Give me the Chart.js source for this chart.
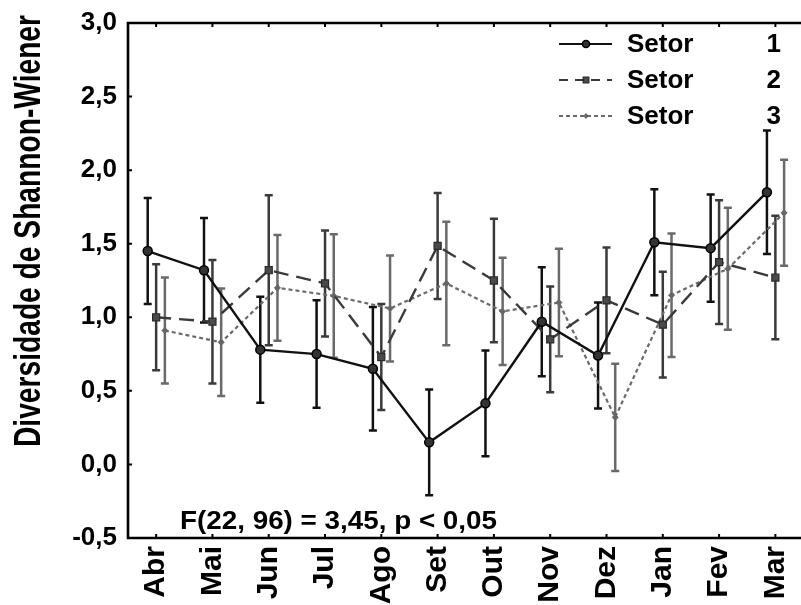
<!DOCTYPE html>
<html>
<head>
<meta charset="utf-8">
<script src="https://cdn.jsdelivr.net/npm/chart.js@4/dist/chart.umd.min.js"></script>
<style>
  html, body { margin: 0; padding: 0; background: #fff; }
  canvas { display: block; }
</style>
</head>
<body>
<canvas id="c" width="801" height="605"></canvas>
<script>
// ---- data ----
const months = ['Abr','Mai','Jun','Jul','Ago','Set','Out','Nov','Dez','Jan','Fev','Mar'];
const yTickValues = [-0.5, 0, 0.5, 1, 1.5, 2, 2.5, 3];
const seriesNames = ['Setor', 'Setor', 'Setor'];
const seriesNumbers = ['1', '2', '3'];
const setor1 = [1.45, 1.32, 0.78, 0.75, 0.65, 0.15, 0.415, 0.97, 0.74, 1.51, 1.47, 1.85];
const setor1Err = [0.36, 0.355, 0.36, 0.365, 0.42, 0.36, 0.36, 0.37, 0.36, 0.36, 0.365, 0.42];
const setor2 = [1.00, 0.97, 1.32, 1.23, 0.73, 1.485, 1.25, 0.85, 1.115, 0.95, 1.375, 1.27];
const setor2Err = [0.36, 0.42, 0.51, 0.36, 0.36, 0.36, 0.42, 0.36, 0.36, 0.36, 0.42, 0.42];
const setor3 = [0.91, 0.83, 1.20, 1.145, 1.06, 1.23, 1.04, 1.10, 0.32, 1.15, 1.33, 1.71];
const setor3Err = [0.36, 0.365, 0.36, 0.42, 0.36, 0.42, 0.365, 0.365, 0.365, 0.42, 0.415, 0.36];
const annotationText = 'F(22, 96) = 3,45, p < 0,05';
const yTitle = 'Diversidade de Shannon-Wiener';

// ---- styling ----
const offsets = [-0.15, 0, 0.155];
const colors = ['#111111', '#3a3a3a', '#6a6a6a'];
const dashes = [[], [15, 8], [4, 3]];

function hasFont(name) {
  const c = document.createElement('canvas').getContext('2d');
  c.font = 'bold 40px monospace';
  const a = c.measureText('Abr Wiener Mai').width;
  c.font = 'bold 40px "' + name + '", monospace';
  return c.measureText('Abr Wiener Mai').width !== a;
}
const narrow = hasFont('Liberation Sans Narrow');
const monthFont = narrow ? { family: '"Liberation Sans Narrow"', size: 36, weight: 'bold' }
                         : { family: '"Liberation Sans", Arial, sans-serif', size: 30, weight: 'bold' };

function toPoints(vals, off) { return vals.map((v, i) => ({ x: i + off, y: v })); }
const values = [setor1, setor2, setor3];
const errors = [setor1Err, setor2Err, setor3Err];

const datasets = [
  { label: 'Setor 1', data: toPoints(setor1, offsets[0]), borderColor: colors[0], borderWidth: 2.4,
    borderDash: dashes[0], pointStyle: 'circle', pointRadius: 4.5, pointBackgroundColor: '#333',
    pointBorderColor: '#000', pointBorderWidth: 1.5, fill: false, tension: 0 },
  { label: 'Setor 2', data: toPoints(setor2, offsets[1]), borderColor: colors[1], borderWidth: 2.4,
    borderDash: dashes[1], pointStyle: 'rect', pointRadius: 5, pointBackgroundColor: '#4a4a4a',
    pointBorderColor: '#2a2a2a', pointBorderWidth: 1.2, fill: false, tension: 0 },
  { label: 'Setor 3', data: toPoints(setor3, offsets[2]), borderColor: colors[2], borderWidth: 2.2,
    borderDash: dashes[2], pointStyle: 'rectRot', pointRadius: 3, pointBackgroundColor: '#666',
    pointBorderColor: '#666', pointBorderWidth: 1, fill: false, tension: 0 }
];

const errorBars = {
  id: 'errorBars',
  beforeDatasetsDraw(chart) {
    const ctx = chart.ctx, xs = chart.scales.x, ys = chart.scales.y;
    ctx.save();
    values.forEach((vals, s) => {
      ctx.strokeStyle = colors[s];
      ctx.lineWidth = 2.5;
      ctx.setLineDash([]);
      vals.forEach((v, i) => {
        const x = xs.getPixelForValue(i + offsets[s]);
        const yt = ys.getPixelForValue(v + errors[s][i]);
        const yb = ys.getPixelForValue(v - errors[s][i]);
        ctx.beginPath();
        ctx.moveTo(x, yt); ctx.lineTo(x, yb);
        ctx.moveTo(x - 4, yt); ctx.lineTo(x + 4, yt);
        ctx.moveTo(x - 4, yb); ctx.lineTo(x + 4, yb);
        ctx.stroke();
      });
    });
    ctx.restore();
  }
};

const frame = {
  id: 'frame',
  afterDraw(chart) {
    const ctx = chart.ctx, a = chart.chartArea, xs = chart.scales.x, ys = chart.scales.y;
    ctx.save();
    ctx.strokeStyle = '#000';
    ctx.lineWidth = 2.6;
    ctx.setLineDash([]);
    ctx.beginPath();
    ctx.moveTo(chart.width, a.top); ctx.lineTo(a.left, a.top);
    ctx.lineTo(a.left, a.bottom); ctx.lineTo(chart.width, a.bottom);
    ctx.stroke();
    ctx.lineWidth = 2;
    ctx.beginPath();
    months.forEach((m, i) => {
      const x = xs.getPixelForValue(i);
      ctx.moveTo(x, a.bottom); ctx.lineTo(x, a.bottom - 4);
      ctx.moveTo(x, a.top); ctx.lineTo(x, a.top + 4);
    });
    yTickValues.forEach(v => {
      const y = ys.getPixelForValue(v);
      ctx.moveTo(a.left, y); ctx.lineTo(a.left + 4, y);
    });
    ctx.stroke();

    // y title
    ctx.fillStyle = '#000';
    ctx.font = 'bold 37px "Liberation Sans", Arial, sans-serif';
    const w = ctx.measureText(yTitle).width;
    ctx.save();
    ctx.translate(30, 231);
    ctx.rotate(-Math.PI / 2);
    ctx.scale(432 / w, 1);
    ctx.textAlign = 'center';
    ctx.textBaseline = 'middle';
    ctx.fillText(yTitle, 0, 0);
    ctx.restore();

    // annotation
    ctx.font = 'bold 26px "Liberation Sans", Arial, sans-serif';
    const aw = ctx.measureText(annotationText).width;
    ctx.save();
    ctx.translate(180, 529);
    ctx.scale(317 / aw, 1);
    ctx.textAlign = 'left';
    ctx.textBaseline = 'alphabetic';
    ctx.fillText(annotationText, 0, 0);
    ctx.restore();

    // legend
    const rows = [44, 80, 116];
    rows.forEach((y, s) => {
      ctx.strokeStyle = colors[s];
      ctx.lineWidth = 2.2;
      ctx.setLineDash(s === 1 ? [9, 7] : dashes[s]);
      ctx.beginPath();
      ctx.moveTo(559, y); ctx.lineTo(612, y);
      ctx.stroke();
      ctx.setLineDash([]);
      const ds = datasets[s];
      ctx.fillStyle = ds.pointBackgroundColor;
      ctx.strokeStyle = ds.pointBorderColor;
      ctx.lineWidth = ds.pointBorderWidth;
      Chart.helpers.drawPoint(ctx, { pointStyle: ds.pointStyle, radius: ds.pointRadius * 0.8, borderWidth: ds.pointBorderWidth, rotation: 0 }, 586, y);
      ctx.fillStyle = '#000';
      ctx.font = 'bold 26px "Liberation Sans", Arial, sans-serif';
      ctx.textBaseline = 'middle';
      ctx.textAlign = 'left';
      ctx.fillText(seriesNames[s], 627, y + 1);
      ctx.textAlign = 'right';
      ctx.fillText(seriesNumbers[s], 781, y + 1);
    });
    ctx.restore();
  }
};

new Chart(document.getElementById('c'), {
  type: 'line',
  data: { datasets },
  options: {
    responsive: false,
    devicePixelRatio: 1,
    animation: false,
    layout: { padding: { top: 23, right: 0, left: 0, bottom: 0 } },
    plugins: { legend: { display: false }, tooltip: { enabled: false } },
    scales: {
      x: {
        type: 'linear',
        min: -0.5,
        max: 11.345,
        grid: { display: false, drawTicks: false },
        border: { display: false },
        afterBuildTicks(scale) { scale.ticks = months.map((m, i) => ({ value: i })); },
        afterFit(scale) { scale.height = 67; scale.paddingLeft = 0; scale.paddingRight = 0; },
        ticks: {
          autoSkip: false,
          maxRotation: 90,
          minRotation: 90,
          padding: 8,
          color: '#000',
          font: monthFont,
          callback(v) { return months[Math.round(v)]; }
        }
      },
      y: {
        min: -0.5,
        max: 3.0,
        grid: { display: false, drawTicks: false },
        border: { display: false },
        afterBuildTicks(scale) { scale.ticks = yTickValues.map(v => ({ value: v })); },
        afterFit(scale) { scale.width = 128; scale.paddingTop = 0; scale.paddingBottom = 0; },
        ticks: {
          padding: 11,
          color: '#000',
          font: { family: '"Liberation Sans", Arial, sans-serif', size: 26, weight: 'bold' },
          callback(v) { return v.toFixed(1).replace('.', ','); }
        }
      }
    }
  },
  plugins: [errorBars, frame]
});
</script>
</body>
</html>
